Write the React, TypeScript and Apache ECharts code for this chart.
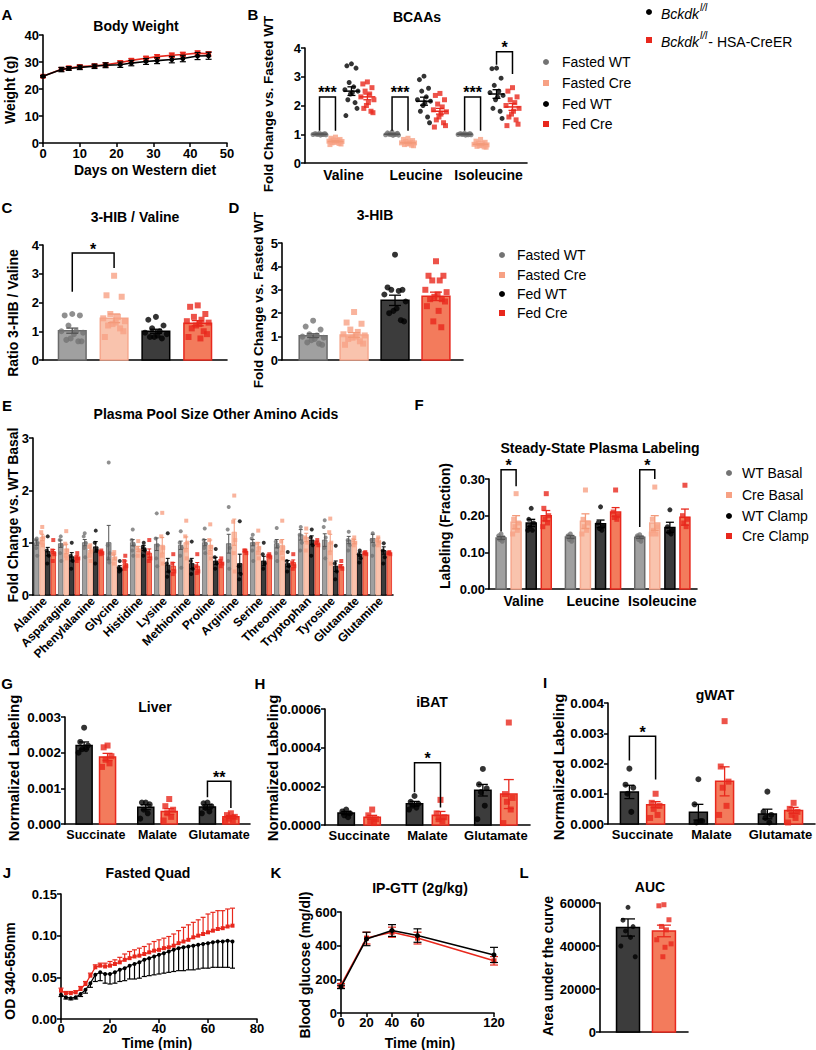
import React, { useEffect, useRef } from 'react';
import * as echarts from 'echarts';

// ---------------- DATA ----------------
// A: body weight
const A_days = [0, 5, 7, 10, 14, 17, 21, 24, 28, 31, 35, 38, 42, 45];
const A_wt = [24.7, 27.2, 27.6, 28.0, 28.4, 28.8, 29.0, 29.6, 30.2, 30.5, 30.9, 31.3, 32.2, 32.3];
const A_wtSem = [0.3, 0.8, 0.7, 0.8, 0.8, 0.9, 1.0, 1.0, 1.1, 1.1, 1.2, 1.2, 1.3, 1.3];
const A_cre = [24.7, 27.3, 27.8, 28.3, 28.6, 29.0, 29.8, 30.6, 31.4, 32.0, 32.5, 32.8, 33.3, 33.0];
const A_creSem = [0.3, 0.6, 0.6, 0.6, 0.6, 0.7, 0.7, 0.7, 0.7, 0.7, 0.8, 0.8, 0.8, 0.8];

// B: BCAAs (dots per group: Valine, Leucine, Isoleucine)
const B_groups = ['Valine', 'Leucine', 'Isoleucine'];
const B_fastedWT = [
  [1.03, 1.02, 1.01, 1.0, 1.0, 0.99, 0.98, 0.97, 1.0, 1.01, 0.99, 1.02],
  [1.08, 1.05, 1.02, 1.0, 0.99, 0.98, 0.97, 0.96, 1.0, 1.01, 0.99, 1.03],
  [1.03, 1.02, 1.01, 1.0, 1.0, 0.99, 0.98, 0.97, 1.0, 1.01, 0.98, 1.02],
];
const B_fastedCre = [
  [0.9, 0.86, 0.82, 0.8, 0.78, 0.76, 0.75, 0.73, 0.72, 0.7, 0.68, 0.66, 0.64],
  [0.86, 0.82, 0.78, 0.75, 0.72, 0.7, 0.7, 0.68, 0.66, 0.64, 0.62, 0.6],
  [0.82, 0.76, 0.72, 0.69, 0.67, 0.65, 0.63, 0.62, 0.6, 0.58, 0.56, 0.55],
];
const B_fedWT = [
  [3.45, 3.38, 3.3, 2.8, 2.65, 2.55, 2.5, 2.45, 2.4, 2.2, 2.1, 1.9, 1.65],
  [3.02, 2.9, 2.6, 2.5, 2.3, 2.2, 2.15, 2.1, 2.0, 1.8, 1.6, 1.4],
  [3.3, 3.28, 2.95, 2.7, 2.5, 2.45, 2.35, 2.3, 2.2, 1.9, 1.8, 1.55],
];
const B_fedCre = [
  [2.82, 2.75, 2.62, 2.5, 2.4, 2.3, 2.2, 2.1, 2.0, 1.9, 1.8, 1.75],
  [2.42, 2.35, 2.2, 2.05, 1.95, 1.85, 1.78, 1.7, 1.6, 1.5, 1.4, 1.3, 1.25],
  [2.62, 2.5, 2.3, 2.2, 2.1, 2.0, 1.9, 1.8, 1.7, 1.6, 1.5, 1.35, 1.3],
];
const B_mean = [[1.0, 1.0, 1.0], [0.75, 0.7, 0.65], [2.5, 2.15, 2.4], [2.3, 1.8, 1.95]];
const B_sem = [[0.01, 0.01, 0.01], [0.02, 0.02, 0.02], [0.15, 0.14, 0.15], [0.1, 0.1, 0.12]];

// C: 3-HIB / Valine
const C_fastedWT = [1.6, 1.55, 1.55, 1.2, 1.0, 1.0, 0.95, 0.9, 0.75, 0.7, 0.65, 0.65];
const C_fastedCre = [2.93, 2.25, 2.2, 1.6, 1.5, 1.45, 1.35, 1.3, 1.25, 1.2, 1.1, 1.0, 0.8];
const C_fedWT = [1.5, 1.4, 1.2, 1.1, 1.0, 0.95, 0.9, 0.85, 0.8, 0.8, 0.75];
const C_fedCre = [1.9, 1.85, 1.6, 1.5, 1.4, 1.35, 1.3, 1.25, 1.2, 1.1, 1.0, 0.9, 0.8, 0.75];
const C_mean = [1.02, 1.45, 1.0, 1.28];
const C_sem = [0.09, 0.15, 0.07, 0.09];

// D: 3-HIB
const D_fastedWT = [1.68, 1.43, 1.3, 1.1, 1.05, 1.0, 0.95, 0.9, 0.85, 0.75, 0.7, 0.65];
const D_fastedCre = [2.05, 1.6, 1.55, 1.3, 1.2, 1.1, 1.05, 1.0, 0.95, 0.9, 0.8, 0.7, 0.65];
const D_fedWT = [4.5, 3.1, 3.0, 3.0, 2.95, 2.8, 2.5, 2.2, 2.1, 2.0, 1.7, 1.65];
const D_fedCre = [4.22, 3.6, 3.6, 3.4, 3.4, 3.0, 2.9, 2.8, 2.7, 2.6, 2.6, 2.5, 2.3, 2.1, 1.65, 1.4];
const D_mean = [1.04, 1.07, 2.55, 2.72];
const D_sem = [0.08, 0.1, 0.22, 0.18];

// E: plasma pool size other amino acids
const E_acids = ['Alanine', 'Asparagine', 'Phenylalanine', 'Glycine', 'Histidine', 'Lysine', 'Methionine', 'Proline', 'Arginine', 'Serine', 'Threonine', 'Tryptophan', 'Tyrosine', 'Glutamate', 'Glutamine'];
const E_wtBasal = [
  [1.08, 1.05, 1.0, 0.9, 0.75], [1.12, 1.05, 0.95, 0.8, 0.65], [1.18, 1.12, 1.0, 0.9, 0.72], [2.53, 0.95, 0.8, 0.7, 0.62],
  [1.25, 1.05, 0.95, 0.85, 0.75], [1.56, 1.08, 0.95, 0.7, 0.55], [1.22, 1.0, 0.9, 0.75, 0.52], [1.27, 1.05, 0.98, 0.9, 0.8],
  [1.68, 1.25, 0.9, 0.65, 0.5], [1.15, 1.08, 0.98, 0.85, 0.65], [1.28, 1.02, 0.92, 0.8, 0.65], [1.3, 1.15, 1.0, 0.85],
  [1.43, 1.3, 1.1, 0.9, 0.7], [1.21, 1.05, 0.95, 0.85], [1.18, 1.05, 0.95, 0.75],
];
const E_creBasal = [
  [1.3, 1.2, 1.1, 1.0, 0.95], [1.22, 0.98, 0.85, 0.75, 0.7], [0.95, 0.92, 0.85, 0.75, 0.65], [0.82, 0.78, 0.7, 0.6],
  [1.03, 0.9, 0.85, 0.75], [1.57, 1.12, 0.9, 0.75, 0.6], [1.42, 1.12, 1.0, 0.85, 0.7], [1.35, 1.05, 0.92, 0.8, 0.7],
  [1.9, 1.4, 1.05, 0.8, 0.45], [1.23, 0.98, 0.9, 0.8, 0.7], [1.42, 1.02, 0.9, 0.8, 0.7], [1.27, 1.1, 1.0, 0.85],
  [1.46, 1.2, 1.0, 0.8, 0.6], [1.1, 1.05, 1.0, 0.95], [1.1, 1.05, 1.0, 0.95],
];
const E_wtClamp = [
  [1.12, 0.85, 0.75, 0.6], [1.0, 0.75, 0.65, 0.5], [1.23, 1.0, 0.85, 0.6], [0.65, 0.52, 0.48, 0.45],
  [1.0, 0.92, 0.85, 0.75], [1.18, 0.6, 0.45, 0.35], [1.02, 0.65, 0.5, 0.4], [0.88, 0.72, 0.6, 0.5],
  [1.41, 0.55, 0.4, 0.3], [1.0, 0.78, 0.6, 0.5], [0.82, 0.65, 0.55, 0.45], [1.25, 1.1, 0.95, 0.75],
  [0.94, 0.6, 0.45, 0.3], [0.85, 0.78, 0.7, 0.62], [0.99, 0.85, 0.72, 0.6],
];
const E_creClamp = [
  [1.05, 0.85, 0.78, 0.65], [0.8, 0.72, 0.7, 0.65], [0.85, 0.82, 0.8, 0.78], [0.75, 0.65, 0.55, 0.5],
  [1.05, 0.8, 0.7, 0.65], [0.78, 0.6, 0.45, 0.4], [0.78, 0.55, 0.45, 0.42], [0.7, 0.65, 0.6, 0.55],
  [0.85, 0.85, 0.8], [0.78, 0.75, 0.72], [0.78, 0.62, 0.55, 0.5], [1.05, 1.0, 0.95],
  [0.65, 0.55, 0.5], [0.82, 0.8, 0.78], [0.82, 0.8, 0.78],
];
const E_mean = [
  [1.0, 0.98, 1.0, 1.0, 1.0, 0.97, 0.95, 1.0, 0.98, 1.0, 0.98, 1.15, 1.05, 1.05, 1.08],
  [1.1, 0.88, 0.85, 0.72, 0.88, 0.95, 1.0, 0.95, 1.2, 0.92, 0.95, 1.1, 1.0, 1.02, 1.05],
  [0.83, 0.73, 0.92, 0.52, 0.9, 0.57, 0.6, 0.65, 0.6, 0.65, 0.6, 1.05, 0.55, 0.78, 0.85],
  [0.83, 0.72, 0.82, 0.6, 0.8, 0.55, 0.55, 0.62, 0.84, 0.75, 0.62, 1.0, 0.55, 0.8, 0.8],
];
const E_sem = [
  [0.05, 0.07, 0.06, 0.33, 0.06, 0.12, 0.08, 0.06, 0.18, 0.06, 0.08, 0.1, 0.12, 0.07, 0.08],
  [0.06, 0.09, 0.05, 0.05, 0.05, 0.15, 0.11, 0.1, 0.25, 0.08, 0.11, 0.08, 0.16, 0.04, 0.04],
  [0.08, 0.08, 0.1, 0.04, 0.05, 0.13, 0.1, 0.07, 0.18, 0.09, 0.06, 0.08, 0.1, 0.04, 0.07],
  [0.04, 0.03, 0.02, 0.05, 0.08, 0.07, 0.07, 0.03, 0.02, 0.02, 0.05, 0.03, 0.03, 0.02, 0.02],
];

// F: steady-state plasma labeling
const F_groups = ['Valine', 'Leucine', 'Isoleucine'];
const F_wtBasal = [[0.15, 0.145, 0.14, 0.135, 0.13], [0.15, 0.145, 0.14, 0.135, 0.13], [0.148, 0.145, 0.14, 0.135, 0.13]];
const F_creBasal = [[0.26, 0.19, 0.18, 0.17, 0.16, 0.15], [0.27, 0.19, 0.18, 0.17, 0.16, 0.15], [0.278, 0.19, 0.17, 0.16, 0.15, 0.15]];
const F_wtClamp = [[0.22, 0.19, 0.18, 0.17, 0.16, 0.16], [0.224, 0.18, 0.17, 0.165, 0.16], [0.216, 0.17, 0.16, 0.155, 0.15]];
const F_creClamp = [[0.26, 0.22, 0.2, 0.19, 0.18, 0.17], [0.27, 0.21, 0.2, 0.195, 0.19], [0.283, 0.2, 0.19, 0.18, 0.17]];
const F_mean = [[0.139, 0.142, 0.141], [0.182, 0.185, 0.18], [0.18, 0.178, 0.168], [0.2, 0.21, 0.196]];
const F_sem = [[0.004, 0.004, 0.003], [0.018, 0.02, 0.02], [0.01, 0.01, 0.014], [0.014, 0.012, 0.022]];

// G, H, I: normalized labeling (Succinate, Malate, Glutamate)
const GHI_groups = ['Succinate', 'Malate', 'Glutamate'];
const G_wt = [[0.0027, 0.0023, 0.0022, 0.0021, 0.0021, 0.002], [0.0006, 0.0006, 0.00055, 0.0004, 0.0003, 0.00015], [0.0006, 0.00058, 0.0005, 0.00045, 0.00035, 0.0003]];
const G_cre = [[0.0022, 0.00215, 0.0019, 0.0018, 0.0017, 0.0016], [0.0007, 0.0005, 0.0004, 0.0003, 0.0002, 0.0001], [0.0003, 0.00025, 0.0002, 0.00015, 0.0001, 0.00008]];
const G_mean = [[0.0022, 0.00047, 0.00048], [0.00188, 0.00035, 0.0002]];
const G_sem = [[0.0001, 0.00007, 0.00006], [0.0001, 0.00008, 0.00004]];
const H_wt = [[0.00008, 0.00007, 0.00006, 0.00005, 0.00004], [0.00015, 0.00012, 0.00011, 0.0001, 0.00009, 0.00008], [0.00029, 0.00021, 0.00019, 0.00017, 0.0001, 0.00003]];
const H_cre = [[0.00008, 0.00005, 0.00003, 0.00002, 0.00001], [0.00013, 0.00006, 0.00004, 0.00003, 0.00002], [0.00053, 0.00016, 0.00014, 0.00012, 0.00008, 0.00001]];
const H_mean = [[0.000062, 0.00011, 0.00018], [0.00004, 0.00005, 0.00016]];
const H_sem = [[0.000008, 0.000012, 0.00003], [0.00001, 0.00002, 0.000075]];
const I_wt = [[0.00183, 0.0013, 0.0012, 0.001, 0.0004], [0.00148, 0.00065, 0.0001, 0.00005, 0.0001], [0.00107, 0.0004, 0.0003, 0.0002, 0.00005]];
const I_cre = [[0.001, 0.0007, 0.0006, 0.0005, 0.0003, 0.0002], [0.0034, 0.0019, 0.0014, 0.0012, 0.0006, 0.0003], [0.0007, 0.0005, 0.0004, 0.0003, 0.0002, 0.00005]];
const I_mean = [[0.00106, 0.00039, 0.00033], [0.00064, 0.00141, 0.00045]];
const I_sem = [[0.00022, 0.00026, 0.00016], [0.0001, 0.00048, 0.0001]];

// J: fasted quad
const J_time = [0, 2, 4, 6, 8, 10, 12, 14, 16, 18, 20, 22, 24, 26, 28, 30, 32, 34, 36, 38, 40, 42, 44, 46, 48, 50, 52, 54, 56, 58, 60, 62, 64, 66, 68, 70];
const J_cre = [0.034, 0.031, 0.031, 0.032, 0.036, 0.042, 0.052, 0.062, 0.064, 0.063, 0.064, 0.066, 0.068, 0.071, 0.073, 0.075, 0.076, 0.078, 0.080, 0.082, 0.083, 0.085, 0.086, 0.088, 0.091, 0.093, 0.095, 0.098, 0.100, 0.102, 0.104, 0.106, 0.108, 0.109, 0.111, 0.112];
const J_creSem = [0.003, 0.002, 0.002, 0.002, 0.003, 0.003, 0.003, 0.003, 0.003, 0.004, 0.005, 0.005, 0.006, 0.007, 0.008, 0.008, 0.009, 0.009, 0.010, 0.011, 0.012, 0.012, 0.013, 0.014, 0.015, 0.017, 0.018, 0.018, 0.019, 0.020, 0.022, 0.022, 0.022, 0.021, 0.021, 0.021];
const J_wt = [0.029, 0.026, 0.025, 0.026, 0.030, 0.035, 0.043, 0.053, 0.056, 0.054, 0.054, 0.056, 0.059, 0.061, 0.064, 0.066, 0.068, 0.071, 0.073, 0.075, 0.077, 0.079, 0.081, 0.083, 0.085, 0.086, 0.087, 0.088, 0.089, 0.090, 0.091, 0.092, 0.093, 0.093, 0.094, 0.093];
const J_wtSem = [0.002, 0.002, 0.002, 0.002, 0.003, 0.004, 0.005, 0.008, 0.010, 0.011, 0.012, 0.013, 0.014, 0.015, 0.016, 0.018, 0.019, 0.020, 0.021, 0.022, 0.023, 0.024, 0.025, 0.026, 0.027, 0.028, 0.028, 0.029, 0.029, 0.029, 0.030, 0.030, 0.031, 0.031, 0.032, 0.032];

// K: IP-GTT
const K_time = [0, 20, 40, 60, 120];
const K_wt = [155, 440, 490, 460, 345];
const K_wtSem = [10, 40, 35, 40, 45];
const K_cre = [165, 445, 480, 445, 310];
const K_creSem = [10, 35, 30, 35, 25];

// L: AUC
const L_wt = [58000, 52000, 49000, 47000, 44000, 40000, 35000];
const L_cre = [59200, 58700, 52200, 49100, 47500, 42900, 41000, 39400, 35000];
const L_mean = [48600, 47000];
const L_sem = [4000, 2700];

// legends
const COND_BCD = ['Fasted WT', 'Fasted Cre', 'Fed WT', 'Fed Cre'];
const COND_F = ['WT Basal', 'Cre Basal', 'WT Clamp', 'Cre Clamp'];

// ---------------- STYLE ----------------
const FONT = '"Liberation Sans", Arial, Helvetica, sans-serif';
type Sty = { fill: string; stroke: string; dot: string; symbol: string; err: string };
const S_GRAY: Sty = { fill: '#a0a0a0', stroke: '#6a6a6a', dot: '#737373', symbol: 'circle', err: '#555555' };
const S_SAL: Sty = { fill: '#f9c3ad', stroke: '#f6a88e', dot: '#f7a184', symbol: 'rect', err: '#f39a7a' };
const S_BLK: Sty = { fill: '#3c3c3c', stroke: '#000000', dot: '#000000', symbol: 'circle', err: '#000000' };
const S_RED: Sty = { fill: '#f37b5c', stroke: '#e8281d', dot: '#e8281d', symbol: 'rect', err: '#e8281d' };
const RED = '#e8281d';
const JIT = [0, -0.7, 0.7, -0.35, 0.35, -1, 1, 0.15, -0.15, -0.55, 0.55, 0.85, -0.85, 0.25, -0.25, 0.5];

// ---------------- HELPERS ----------------
function rectSeries(g: number, items: any[], lw = 1.5) {
  return {
    type: 'custom', xAxisIndex: g, yAxisIndex: g, z: 1, silent: true, clip: false,
    data: items.map((it) => [it.x, it.v]), encode: { x: 0, y: 1 },
    renderItem: (params: any, api: any) => {
      const it = items[params.dataIndex];
      const a = api.coord([it.x - it.hw, it.v]);
      const b = api.coord([it.x + it.hw, 0]);
      return { type: 'rect', shape: { x: a[0], y: a[1], width: b[0] - a[0], height: b[1] - a[1] }, style: { fill: it.fill, stroke: it.stroke, lineWidth: lw } };
    },
  };
}
function errSeries(g: number, items: any[], z = 4) {
  return {
    type: 'custom', xAxisIndex: g, yAxisIndex: g, z, silent: true, clip: false,
    data: items.map((it) => [it.x, it.hi]), encode: { x: 0, y: 1 },
    renderItem: (params: any, api: any) => {
      const it = items[params.dataIndex];
      const t = api.coord([it.x, it.hi]);
      const b = api.coord([it.x, it.lo]);
      const st = { stroke: it.color, lineWidth: it.lw ?? 1.3 };
      const ch: any[] = [];
      if (Math.abs(t[1] - b[1]) > 0.1) ch.push({ type: 'line', shape: { x1: t[0], y1: t[1], x2: b[0], y2: b[1] }, style: st });
      if (it.capTop) ch.push({ type: 'line', shape: { x1: t[0] - it.capTop, y1: t[1], x2: t[0] + it.capTop, y2: t[1] }, style: st });
      if (it.capBot) ch.push({ type: 'line', shape: { x1: b[0] - it.capBot, y1: b[1], x2: b[0] + it.capBot, y2: b[1] }, style: st });
      return { type: 'group', children: ch };
    },
  };
}
function dotSeries(g: number, pts: number[][], color: string, symbol: string, size: number, z = 3) {
  return { type: 'scatter', xAxisIndex: g, yAxisIndex: g, data: pts, symbol, symbolSize: size, itemStyle: { color }, z, silent: true };
}
function sigSeries(g: number, items: any[]) {
  return {
    type: 'custom', xAxisIndex: g, yAxisIndex: g, z: 6, silent: true, clip: false,
    data: items.map((it) => [it.x1, it.y]), encode: { x: 0, y: 1 },
    renderItem: (params: any, api: any) => {
      const it = items[params.dataIndex];
      const p1 = api.coord([it.x1, it.y1]);
      const p2 = api.coord([it.x1, it.y]);
      const p3 = api.coord([it.x2, it.y]);
      const p4 = api.coord([it.x2, it.y2]);
      return {
        type: 'group', children: [
          { type: 'polyline', shape: { points: [p1, p2, p3, p4] }, style: { stroke: '#000', lineWidth: 1.5, fill: 'none' } },
          { type: 'text', x: (p2[0] + p3[0]) / 2, y: p2[1] - 4, style: { text: it.label, fill: '#000', font: `bold 16px ${FONT}`, align: 'center', verticalAlign: 'middle' } },
        ],
      };
    },
  };
}
function barPanel(g: number, o: any) {
  const bars: any[] = []; const errs: any[] = []; const out: any[] = [];
  o.styles.forEach((s: Sty, c: number) => {
    const pts: number[][] = [];
    o.centers.forEach((ctr: number, gi: number) => {
      const x = ctr + o.offsets[c];
      const m = o.means[c][gi]; const e = o.sems[c][gi];
      bars.push({ x, v: m, hw: o.halfW, fill: s.fill, stroke: s.stroke });
      errs.push({ x, lo: m - e, hi: m + e, capTop: o.cap, capBot: o.cap, color: s.err, lw: o.errLw ?? 1.3 });
      o.dots[c][gi].forEach((d: number, i: number) => pts.push([x + JIT[i % JIT.length] * o.spread, d]));
    });
    out.push(dotSeries(g, pts, s.dot, s.symbol, o.dotSize));
  });
  return [rectSeries(g, bars, o.lw ?? 1.5), ...out, errSeries(g, errs, 4)];
}
function dotPlotPanel(g: number, o: any) {
  const errs: any[] = []; const out: any[] = [];
  o.styles.forEach((s: Sty, c: number) => {
    const pts: number[][] = [];
    o.centers.forEach((ctr: number, gi: number) => {
      const x = ctr + o.offsets[c];
      const m = o.means[c][gi]; const e = o.sems[c][gi];
      errs.push({ x, lo: m, hi: m, capTop: 8, color: s.err, lw: 1.5 });
      errs.push({ x, lo: m - e, hi: m + e, capTop: 4, capBot: 4, color: s.err, lw: 1.3 });
      o.dots[c][gi].forEach((d: number, i: number) => pts.push([x + JIT[i % JIT.length] * o.spread, d]));
    });
    out.push(dotSeries(g, pts, s.dot, s.symbol, o.dotSize));
  });
  return [...out, errSeries(g, errs, 4)];
}
function linePanel(g: number, xs: number[], ys: number[], sems: number[], color: string, symbol: string, size: number, cap: number, dir: string, lw = 1.6, z = 3) {
  const errs = xs.map((x, i) => ({
    x,
    lo: dir === 'up' ? ys[i] : ys[i] - sems[i],
    hi: dir === 'down' ? ys[i] : ys[i] + sems[i],
    capTop: dir === 'down' ? 0 : cap,
    capBot: dir === 'up' ? 0 : cap,
    color, lw: 1.2,
  }));
  return [
    errSeries(g, errs, z),
    { type: 'line', xAxisIndex: g, yAxisIndex: g, data: xs.map((x, i) => [x, ys[i]]), symbol, symbolSize: size, lineStyle: { color, width: lw }, itemStyle: { color }, z: z + 1, silent: true },
  ];
}
function xAx(g: number, o: any) {
  return {
    type: 'value', gridIndex: g, min: o.min, max: o.max, interval: o.interval,
    splitLine: { show: false },
    axisLine: { show: true, onZero: false, lineStyle: { color: '#000', width: 1.6 } },
    axisTick: { show: !!o.ticks, length: 4, lineStyle: { color: '#000', width: 1.5 }, customValues: o.tickValues },
    axisLabel: {
      show: o.labels !== false, color: '#000', fontWeight: 'bold', fontSize: o.fontSize ?? 13, fontFamily: FONT,
      margin: o.margin ?? 4, rotate: o.rotate ?? 0, customValues: o.labelValues, formatter: o.formatter, hideOverlap: false,
    },
  };
}
function yAx(g: number, o: any) {
  return {
    type: 'value', gridIndex: g, min: o.min, max: o.max, interval: o.interval,
    splitLine: { show: false },
    axisLine: { show: true, onZero: false, lineStyle: { color: '#000', width: 1.6 } },
    axisTick: { show: true, length: 4, lineStyle: { color: '#000', width: 1.5 } },
    axisLabel: { color: '#000', fontWeight: 'bold', fontSize: o.fontSize ?? 13, fontFamily: FONT, margin: 4, formatter: o.formatter ?? ((v: number) => String(v)) },
  };
}
function measure(t: string, font: string) {
  const c = document.createElement('canvas').getContext('2d');
  if (!c) return t.length * 7;
  c.font = font;
  return c.measureText(t).width;
}

function buildOption() {
  const grids = [
    { left: 43, top: 35, width: 184, height: 108 },
    { left: 305, top: 48, width: 222, height: 115 },
    { left: 43, top: 245, width: 184, height: 115 },
    { left: 282, top: 243, width: 181, height: 117 },
    { left: 33, top: 438, width: 360, height: 157 },
    { left: 489, top: 479, width: 208, height: 110 },
    { left: 65, top: 717, width: 185, height: 107 },
    { left: 325, top: 709, width: 205, height: 116 },
    { left: 608, top: 703, width: 207, height: 121 },
    { left: 61, top: 894, width: 196, height: 125 },
    { left: 341, top: 912, width: 153, height: 101 },
    { left: 600, top: 903, width: 88, height: 129 },
  ].map((g) => ({ ...g, containLabel: false, outerBoundsMode: 'none' }));

  const catFmt = (names: string[], base: number) => (v: number) => names[Math.round(v - base)] ?? '';
  const ghiX = (g: number, fs: number) => xAx(g, { min: 0, max: 3, labelValues: [0.5, 1.5, 2.5], formatter: catFmt(GHI_groups, 0.5), fontSize: fs, margin: 4 });
  const xAxes = [
    xAx(0, { min: 0, max: 50, interval: 10, ticks: true }),
    xAx(1, { min: 0.47, max: 3.53, labelValues: [1, 2, 3], formatter: catFmt(B_groups, 1), fontSize: 14, margin: 5 }),
    xAx(2, { min: 0.3, max: 4.7, labels: false }),
    xAx(3, { min: 0.24, max: 4.66, labels: false }),
    xAx(4, { min: 0, max: 15, labelValues: E_acids.map((_, i) => i + 0.5), formatter: catFmt(E_acids, 0.5), fontSize: 12, rotate: 45, margin: 4 }),
    xAx(5, { min: 0, max: 3, labelValues: [0.5, 1.5, 2.5], formatter: catFmt(F_groups, 0.5), fontSize: 14, margin: 5 }),
    ghiX(6, 12.5),
    ghiX(7, 13),
    ghiX(8, 13),
    xAx(9, { min: 0, max: 80, interval: 20, ticks: true, margin: 3 }),
    xAx(10, { min: 0, max: 120, ticks: true, labelValues: K_time, tickValues: K_time, margin: 3 }),
    xAx(11, { min: 0.22, max: 2.67, labels: false }),
  ];
  const yAxes = [
    yAx(0, { min: 0, max: 40, interval: 10 }),
    yAx(1, { min: 0, max: 4, interval: 1 }),
    yAx(2, { min: 0, max: 4, interval: 1 }),
    yAx(3, { min: 0, max: 5, interval: 1 }),
    yAx(4, { min: 0, max: 3, interval: 1 }),
    yAx(5, { min: 0, max: 0.3, interval: 0.1, formatter: (v: number) => v.toFixed(2) }),
    yAx(6, { min: 0, max: 0.003, interval: 0.001, formatter: (v: number) => v.toFixed(3), fontSize: 13.5 }),
    yAx(7, { min: 0, max: 0.0006, interval: 0.0002, formatter: (v: number) => v.toFixed(4), fontSize: 13.5 }),
    yAx(8, { min: 0, max: 0.004, interval: 0.001, formatter: (v: number) => v.toFixed(3), fontSize: 13.5 }),
    yAx(9, { min: 0, max: 0.15, interval: 0.05, formatter: (v: number) => v.toFixed(2) }),
    yAx(10, { min: 0, max: 600, interval: 200 }),
    yAx(11, { min: 0, max: 60000, interval: 20000 }),
  ];

  const four = [S_GRAY, S_SAL, S_BLK, S_RED];
  const two = [S_BLK, S_RED];
  const ghiCenters = [0.5, 1.5, 2.5];
  const series: any[] = [
    // A
    ...linePanel(0, A_days, A_cre, A_creSem, RED, 'rect', 5, 3, 'both', 1.6, 3),
    ...linePanel(0, A_days, A_wt, A_wtSem, '#000', 'circle', 5, 3, 'both', 1.6, 5),
    // B
    ...dotPlotPanel(1, { centers: [1, 2, 3], offsets: [-0.33, -0.11, 0.11, 0.33], spread: 0.09, means: B_mean, sems: B_sem, dots: [B_fastedWT, B_fastedCre, B_fedWT, B_fedCre], styles: four, dotSize: 5 }),
    sigSeries(1, [
      { x1: 1 - 0.33, x2: 1 - 0.11, y: 2.3, y1: 1.12, y2: 1.12, label: '***' },
      { x1: 2 - 0.33, x2: 2 - 0.11, y: 2.3, y1: 1.12, y2: 1.12, label: '***' },
      { x1: 3 - 0.33, x2: 3 - 0.11, y: 2.3, y1: 1.12, y2: 1.12, label: '***' },
      { x1: 3 + 0.11, x2: 3 + 0.33, y: 3.87, y1: 3.42, y2: 3.1, label: '*' },
    ]),
    // C
    ...barPanel(2, { centers: [0], offsets: [1, 2, 3, 4], halfW: 0.33, spread: 0.26, means: C_mean.map((m) => [m]), sems: C_sem.map((e) => [e]), dots: [[C_fastedWT], [C_fastedCre], [C_fedWT], [C_fedCre]], styles: four, dotSize: 6, cap: 6 }),
    sigSeries(2, [{ x1: 1, x2: 2, y: 3.72, y1: 2.37, y2: 3.2, label: '*' }]),
    // D
    ...barPanel(3, { centers: [0], offsets: [1, 2, 3, 4], halfW: 0.34, spread: 0.26, means: D_mean.map((m) => [m]), sems: D_sem.map((e) => [e]), dots: [[D_fastedWT], [D_fastedCre], [D_fedWT], [D_fedCre]], styles: four, dotSize: 6, cap: 6 }),
    // E
    ...barPanel(4, { centers: E_acids.map((_, i) => i + 0.5), offsets: [-0.345, -0.115, 0.115, 0.345], halfW: 0.095, spread: 0.06, means: E_mean, sems: E_sem, dots: [E_wtBasal, E_creBasal, E_wtClamp, E_creClamp], styles: four, dotSize: 4, cap: 2, lw: 0.8, errLw: 1 }),
    // F
    ...barPanel(5, { centers: [0.5, 1.5, 2.5], offsets: [-0.326, -0.109, 0.109, 0.326], halfW: 0.072, spread: 0.05, means: F_mean, sems: F_sem, dots: [F_wtBasal, F_creBasal, F_wtClamp, F_creClamp], styles: four, dotSize: 5, cap: 4 }),
    sigSeries(5, [
      { x1: 0.5 - 0.326, x2: 0.5 - 0.109, y: 0.325, y1: 0.157, y2: 0.28, label: '*' },
      { x1: 2.5 - 0.326, x2: 2.5 - 0.109, y: 0.325, y1: 0.169, y2: 0.3, label: '*' },
    ]),
    // G
    ...barPanel(6, { centers: ghiCenters, offsets: [-0.19, 0.19], halfW: 0.13, spread: 0.09, means: G_mean, sems: G_sem, dots: [G_wt, G_cre], styles: two, dotSize: 6, cap: 5 }),
    sigSeries(6, [{ x1: 2.5 - 0.19, x2: 2.5 + 0.19, y: 0.0012, y1: 0.00075, y2: 0.00045, label: '**' }]),
    // H
    ...barPanel(7, { centers: ghiCenters, offsets: [-0.19, 0.19], halfW: 0.12, spread: 0.08, means: H_mean, sems: H_sem, dots: [H_wt, H_cre], styles: two, dotSize: 6, cap: 5 }),
    sigSeries(7, [{ x1: 1.5 - 0.19, x2: 1.5 + 0.19, y: 0.000322, y1: 0.00017, y2: 0.00009, label: '*' }]),
    // I
    ...barPanel(8, { centers: ghiCenters, offsets: [-0.19, 0.19], halfW: 0.13, spread: 0.08, means: I_mean, sems: I_sem, dots: [I_wt, I_cre], styles: two, dotSize: 6, cap: 5 }),
    sigSeries(8, [{ x1: 0.5 - 0.19, x2: 0.5 + 0.19, y: 0.0029, y1: 0.0021, y2: 0.00147, label: '*' }]),
    // J
    ...linePanel(9, J_time, J_cre, J_creSem, RED, 'rect', 4, 2.5, 'up', 1.2, 3),
    ...linePanel(9, J_time, J_wt, J_wtSem, '#000', 'circle', 4, 2.5, 'down', 1.2, 5),
    // K
    ...linePanel(10, K_time, K_cre, K_creSem, RED, 'rect', 5, 4, 'both', 1.6, 3),
    ...linePanel(10, K_time, K_wt, K_wtSem, '#000', 'circle', 5, 4, 'both', 1.6, 5),
    // L
    ...barPanel(11, { centers: [0], offsets: [1, 2], halfW: 0.32, spread: 0.2, means: L_mean.map((m) => [m]), sems: L_sem.map((e) => [e]), dots: [[L_wt], [L_cre]], styles: two, dotSize: 5, cap: 7 }),
  ];

  // ---------- graphic texts ----------
  const els: any[] = [];
  const txt = (text: string, x: number, y: number, font: string, opts: any = {}) =>
    els.push({ type: 'text', x, y, rotation: opts.rot ?? 0, silent: true, z: 100,
      style: { text, fill: opts.fill ?? '#000', font, align: opts.align ?? 'center', verticalAlign: 'middle' } });
  const letters: [string, number, number][] = [['A', 7, 14], ['B', 253, 14], ['C', 7, 207], ['D', 234, 207], ['E', 7, 405], ['F', 419, 404], ['G', 7, 683], ['H', 260, 683], ['I', 545, 682], ['J', 7, 872], ['K', 276, 872], ['L', 524, 872]];
  letters.forEach(([t, x, y]) => txt(t, x, y, `bold 15px ${FONT}`));
  const titles: [string, number, number][] = [
    ['Body Weight', 136, 26], ['BCAAs', 417, 17], ['3-HIB / Valine', 135, 217], ['3-HIB', 375, 215],
    ['Plasma Pool Size Other Amino Acids', 216, 414], ['Steady-State Plasma Labeling', 600, 448],
    ['Liver', 155, 707], ['iBAT', 432, 702], ['gWAT', 715, 695],
    ['Fasted Quad', 148, 873], ['IP-GTT (2g/kg)', 420, 888], ['AUC', 650, 887],
  ];
  titles.forEach(([t, x, y]) => txt(t, x, y, `bold 14px ${FONT}`));
  const ylabels: [string, number, number, number?][] = [
    ['Weight (g)', 10, 90], ['Fold Change vs. Fasted WT', 268, 104, 13.5], ['Ratio 3-HIB / Valine', 13, 313],
    ['Fold Change vs. Fasted WT', 258, 300, 13.5], ['Fold Change vs. WT Basal', 13, 515], ['Labeling (Fraction)', 445, 526],
    ['Normalized Labeling', 13, 768, 15], ['Normalized Labeling', 272, 768, 15], ['Normalized Labeling', 558, 767, 15],
    ['OD 340-650nm', 10, 971], ['Blood glucose (mg/dl)', 305, 965], ['Area under the curve', 548, 966],
  ];
  ylabels.forEach(([t, x, y, s]) => txt(t, x, y, `bold ${s ?? 14}px ${FONT}`, { rot: Math.PI / 2 }));
  txt('Days on Western diet', 145, 170, `bold 14px ${FONT}`);
  txt('Time (min)', 157, 1043, `bold 14px ${FONT}`);
  txt('Time (min)', 420, 1043, `bold 14px ${FONT}`);

  const marker = (s: Sty, cx: number, cy: number, color?: string) => {
    const c = color ?? s.dot;
    if (s.symbol === 'circle') els.push({ type: 'circle', shape: { cx, cy, r: 3 }, style: { fill: c }, silent: true });
    else els.push({ type: 'rect', shape: { x: cx - 3, y: cy - 3, width: 6, height: 6 }, style: { fill: c }, silent: true });
  };
  const legend = (labels: string[], mx: number, tx: number, ys: number[]) => {
    labels.forEach((l, i) => {
      marker([S_GRAY, S_SAL, S_BLK, S_RED][i], mx, ys[i]);
      txt(l, tx, ys[i], `14px ${FONT}`, { align: 'left' });
    });
  };
  legend(COND_BCD, 546, 562, [62, 83, 104, 124]);
  legend(COND_BCD, 502, 517, [255, 275, 294, 313]);
  legend(COND_F, 729, 742, [473, 495, 516, 536]);

  // top genotype legend
  const itF = `italic 14px ${FONT}`;
  const supF = `italic 10px ${FONT}`;
  const wB = measure('Bckdk', itF);
  const wS = measure('l/l', supF);
  marker(S_BLK, 649, 12);
  txt('Bckdk', 661, 14, itF, { align: 'left' });
  txt('l/l', 661 + wB + 1, 7, supF, { align: 'left' });
  marker(S_RED, 649, 40, RED);
  txt('Bckdk', 661, 42, itF, { align: 'left' });
  txt('l/l', 661 + wB + 1, 35, supF, { align: 'left' });
  txt('- HSA-CreER', 661 + wB + wS + 2, 42, `14px ${FONT}`, { align: 'left' });

  return {
    animation: false,
    backgroundColor: '#ffffff',
    textStyle: { fontFamily: FONT },
    grid: grids,
    xAxis: xAxes,
    yAxis: yAxes,
    series,
    graphic: els,
  };
}

export default function App() {
  const ref = useRef<HTMLDivElement>(null);
  useEffect(() => {
    if (!ref.current) return;
    const chart = echarts.init(ref.current, null, { renderer: 'svg' });
    chart.setOption(buildOption() as any);
    return () => chart.dispose();
  }, []);
  return <div ref={ref} style={{ position: 'absolute', left: 0, top: 0, width: 816, height: 1050, background: '#fff' }} />;
}
